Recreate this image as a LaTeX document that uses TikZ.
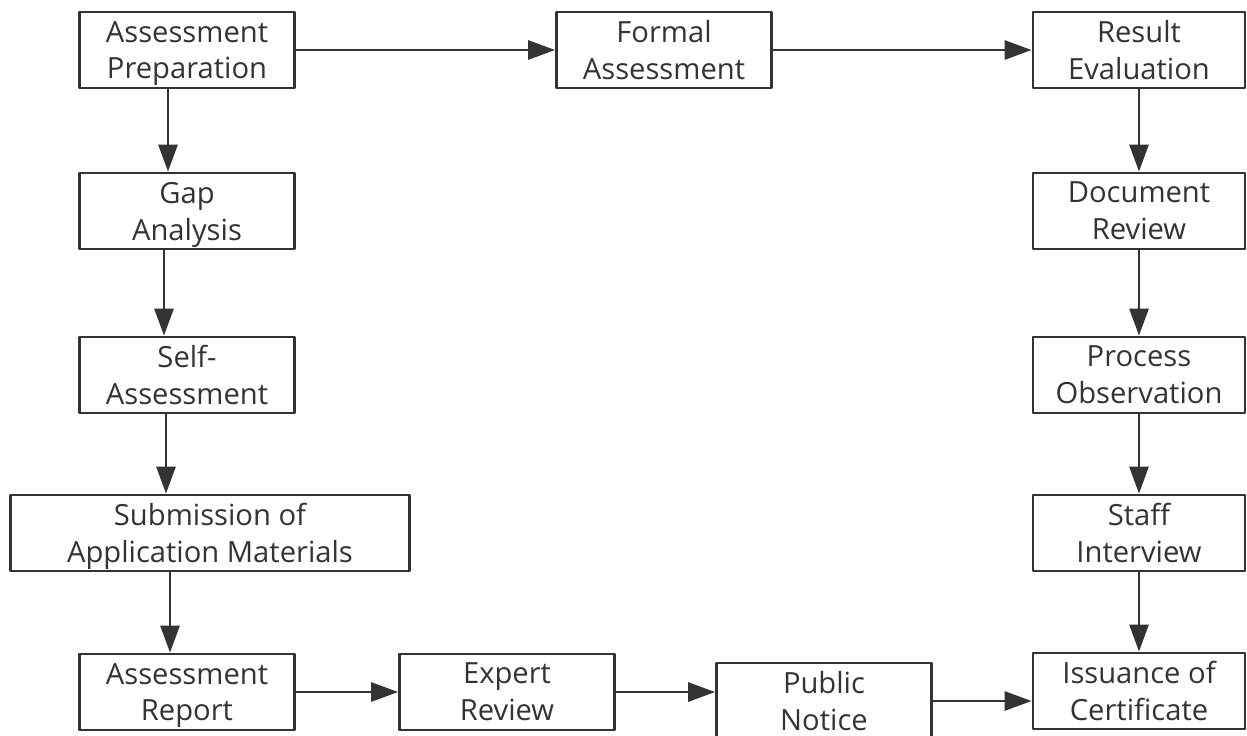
\documentclass[tikz,border=0pt]{standalone}
\usepackage{fontspec}
\setmainfont{Open Sans}
\usetikzlibrary{arrows.meta}
\definecolor{ink}{HTML}{333333}
\begin{document}
\begin{tikzpicture}[x=0.02cm,y=-0.02cm, font=\fontsize{16.6}{21}\selectfont, line join=round, line cap=round,
  box/.style={draw=ink, text=ink, line width=1.6pt, minimum width=4.3cm, minimum height=1.52cm, inner sep=0pt, text depth=0pt, align=center},
  arr/.style={draw=ink, line width=1.6pt, -{Triangle[length=0.54cm,width=0.38cm]}}]
\useasboundingbox (0,0) rectangle (1247,735);
\node[box] (prep) at (187,50) {Assessment\\Preparation};
\node[box] (formal) at (664,50) {Formal\\Assessment};
\node[box, minimum width=4.24cm] (result) at (1139,50) {Result\\Evaluation};
\node[box] (gap) at (187,211) {Gap\\Analysis};
\node[box] (self) at (187,375) {Self-\\Assessment};
\node[box, minimum width=7.98cm] (sub) at (210,533) {Submission of\\Application Materials};
\node[box] (report) at (187,692) {Assessment\\Report};
\node[box] (expert) at (507,692) {Expert\\Review};
\node[box] (notice) at (824,701) {Public\\Notice};
\node[box, minimum width=4.24cm] (doc) at (1139,211) {Document\\Review};
\node[box, minimum width=4.24cm] (proc) at (1139,375) {Process\\Observation};
\node[box, minimum width=4.24cm] (staff) at (1139,533) {Staff\\Interview};
\node[box, minimum width=4.24cm] (issue) at (1139,691) {Issuance of\\Certificate};
\coordinate (la) at (168,0);
\coordinate (lb) at (164,0);
\coordinate (lc) at (166,0);
\coordinate (ld) at (170,0);
\draw[arr] (prep) -- (formal);
\draw[arr] (formal) -- (result);
\draw[arr] (prep.south -| la) -- (gap.north -| la);
\draw[arr] (gap.south -| lb) -- (self.north -| lb);
\draw[arr] (self.south -| lc) -- (sub.north -| lc);
\draw[arr] (sub.south -| ld) -- (report.north -| ld);
\draw[arr] (report) -- (expert);
\draw[arr] (expert.east) -- (expert.east -| notice.west);
\draw[arr] (notice.east) -- (notice.east -| issue.west);
\draw[arr] (result) -- (doc);
\draw[arr] (doc) -- (proc);
\draw[arr] (proc) -- (staff);
\draw[arr] (staff) -- (issue);
\end{tikzpicture}
\end{document}
